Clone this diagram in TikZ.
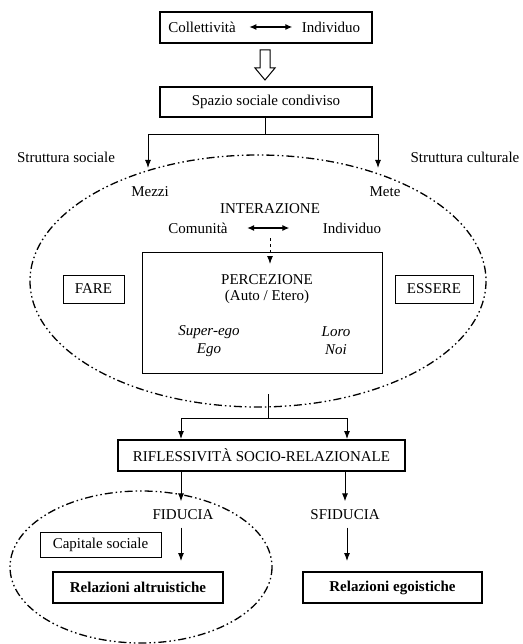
\documentclass[tikz,border=0pt]{standalone}
\usepackage{fontspec}
\setmainfont{Liberation Serif}
\usetikzlibrary{arrows.meta}

\begin{document}
\begin{tikzpicture}[x=1pt, y=-1pt, font=\fontsize{15}{17}\selectfont,
    arr/.style={-{Latex[length=8pt,width=6pt]}, line width=1pt},
    biarr/.style={{Latex[length=7pt,width=6pt]}-{Latex[length=7pt,width=6pt]}, line width=1.2pt},
    thickbox/.style={draw, line width=1.9pt, inner sep=0pt},
    thinbox/.style={draw, line width=1pt, inner sep=0pt},
    it/.style={font=\fontsize{15}{17}\selectfont\itshape},
    dashdotdot/.style={line width=1.3pt, dash pattern=on 8pt off 3pt on 1.5pt off 3pt on 1.5pt off 3pt}]
    \useasboundingbox (0,0) rectangle (522,644);

    % top
    \node[thickbox, minimum width=212pt, minimum height=31pt] (topbox) at (266,27.5) {};
    \node (coll) at (202,27) {Collettività};
    \node (indtop) at (331,27) {Individuo};
    \draw[biarr, shorten <=10pt, shorten >=6pt] (coll.east) -- (indtop.west);

    \draw[line width=1pt] (260,50) -- (270,50) -- (270,68) -- (275,68) -- (265,80) -- (255,68) -- (260,68) -- cycle;

    \node[thickbox, minimum width=212pt, minimum height=30pt] (spazio) at (266,102) {Spazio sociale condiviso};

    % split
    \coordinate (sp) at (265,135);
    \coordinate (mz) at (148,168);
    \coordinate (mt) at (378,168);
    \draw[line width=1pt] (spazio.south -| sp) -- (sp);
    \draw[arr] (sp) -| (mz);
    \draw[arr] (sp) -| (mt);

    \node (soc) at (66,157) {Struttura sociale};
    \node (cult) at (465,157) {Struttura culturale};
    \node (mezzi) at (150,192) {Mezzi};
    \node (mete) at (385,192) {Mete};

    % big ellipse
    \draw[dashdotdot] (258,281) ellipse [x radius=228, y radius=126];

    \node (inter) at (270,209) {INTERAZIONE};
    \node (com) at (198,228) {Comunità};
    \node (ind) at (352,228) {Individuo};
    \draw[biarr, shorten <=16pt, shorten >=30pt] (com.east) -- (ind.west);

    \node[thinbox, minimum width=240pt, minimum height=121pt] (perc) at (262,312.5) {};
    \draw[arr, dashed] (270,238) -- (270,264);

    \node (ptitle) at (267,280) {PERCEZIONE};
    \node (auto) at (267,297) {(Auto / Etero)};
    \node[it] (super) at (209,332) {Super-ego};
    \node[it] (ego) at (209,350) {Ego};
    \node[it] (loro) at (336,332) {Loro};
    \node[it] (noi) at (336,350) {Noi};

    \node[thinbox, minimum width=61pt, minimum height=28pt] (fare) at (93.5,289) {FARE};
    \node[thinbox, minimum width=78pt, minimum height=28pt] (essere) at (434,289) {ESSERE};

    % riflessivita
    \node[thickbox, minimum width=287pt, minimum height=31pt] (rifl) at (261.5,455.5) {RIFLESSIVITÀ SOCIO-RELAZIONALE};
    \coordinate (rs) at (268,418);
    \draw[line width=1pt] (268,394) -- (rs);
    \draw[arr] (rs) -| (rifl.north -| 181,0);
    \draw[arr] (rs) -| (rifl.north -| 347,0);

    \node (fid) at (183,515) {FIDUCIA};
    \node (sfid) at (345,515) {SFIDUCIA};
    \draw[arr, shorten >=5pt] (rifl.south -| 181,0) -- (fid.north -| 181,0);
    \draw[arr, shorten >=5pt] (rifl.south -| 345,0) -- (sfid.north -| 345,0);

    \node[thinbox, minimum width=121pt, minimum height=25pt] (cap) at (100.5,544.5) {Capitale sociale};
    \node[thickbox, minimum width=170pt, minimum height=31pt, font=\fontsize{15}{17}\selectfont\bfseries] (alt) at (138,587.5) {Relazioni altruistiche};
    \node[thickbox, minimum width=179pt, minimum height=31pt, font=\fontsize{15}{17}\selectfont\bfseries] (egoi) at (392.5,587.5) {Relazioni egoistiche};
    \draw[arr, shorten <=4pt, shorten >=10pt] (fid.south -| 181,0) -- (alt.north -| 181,0);
    \draw[arr, shorten <=4pt, shorten >=10pt] (sfid.south -| 347,0) -- (egoi.north -| 347,0);

    % small ellipse
    \draw[dashdotdot] (141,567) ellipse [x radius=131, y radius=76];
\end{tikzpicture}
\end{document}
